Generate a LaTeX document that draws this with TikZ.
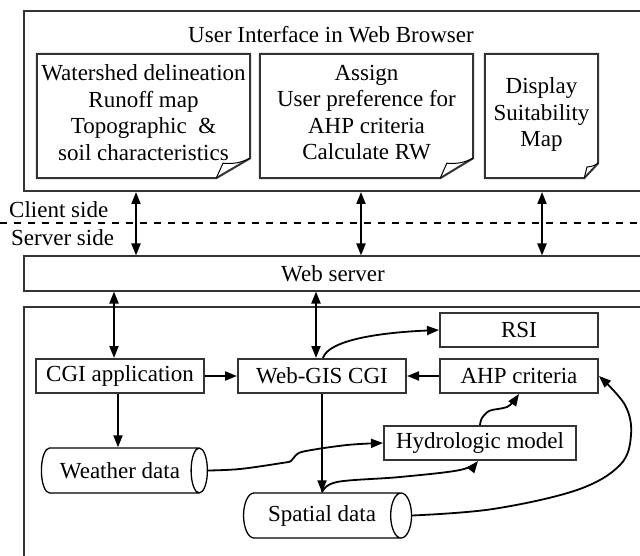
\documentclass[tikz,border=0pt]{standalone}
\usepackage{fontspec}
\setmainfont{Liberation Serif}
\usetikzlibrary{arrows.meta,shapes.geometric}
\definecolor{edge}{HTML}{333333}
\newcommand{\docpage}[3]{%
    \draw[frame] (#1.north west) -- (#1.north east) -- ([yshift=#3]#1.south east)
        -- ([xshift=-#2]#1.south east) -- (#1.south west) -- cycle;
    \draw[fold] ([xshift=-#2]#1.south east) -- ([xshift={-0.8*#2},yshift={0.75*#3}]#1.south east)
        to[bend right=15] ([yshift=#3]#1.south east);
}

\begin{document}
\begin{tikzpicture}[x=1pt, y=-1pt, font=\fontsize{23}{26.5}\selectfont,
    frame/.style={draw=edge, line width=2pt},
    fold/.style={draw=black, line width=1pt},
    box/.style={frame, inner sep=0pt, minimum height=34pt},
    doc/.style={inner sep=0pt, minimum height=124pt, align=center, text depth=7pt},
    db/.style={draw=black, line width=1.3pt, cylinder, aspect=1, inner sep=0pt,
        minimum width=45pt},
    arr/.style={line width=1.8pt, -{Triangle[length=12pt,width=9pt]}},
    dbl/.style={line width=1.8pt, {Triangle[length=12pt,width=9pt]}-{Triangle[length=12pt,width=9pt]}}]
    \useasboundingbox (0, 0) rectangle (640, 556);
    \clip (0, 0) rectangle (640, 556);

    \node (ui) [frame, inner sep=0pt, minimum width=618pt, minimum height=180pt] at (333, 101) {};
    \node (title) at (331, 35) {User Interface in Web Browser};
    \node (doc1) [doc, minimum width=213pt] at (143.5, 116) {Watershed delineation\\Runoff map\\Topographic~ \&\\soil characteristics};
    \node (doc2) [doc, minimum width=213pt] at (366.5, 116) {Assign\\User preference for\\AHP criteria\\Calculate RW};
    \node (doc3) [doc, minimum width=113pt] at (541.5, 116) {Display\\Suitability\\Map};
    \docpage{doc1}{34}{20}
    \docpage{doc2}{33}{20}
    \docpage{doc3}{14}{15}

    \node (client) [anchor=west, inner sep=0pt] at (9, 210) {Client side};
    \node (server) [anchor=west, inner sep=0pt] at (11, 238) {Server side};
    \draw[line width=1.8pt, dash pattern=on 7pt off 7pt] (0, 223) -- (640, 223);

    \node (web) [box, minimum width=618pt] at (333, 273.5) {Web server};
    \node (srv) [frame, inner sep=0pt, minimum width=618pt, minimum height=270pt] at (333, 442) {};

    \node (rsi) [box, minimum width=158pt] at (519, 330) {RSI};
    \node (cgi) [box, minimum width=168pt] at (120, 376) {CGI application};
    \node (webgis) [box, minimum width=168pt] at (322, 376) {Web-GIS CGI};
    \node (ahp) [box, minimum width=158pt] at (519, 376) {AHP criteria};
    \node (hydro) [box, minimum width=192pt] at (480, 443) {Hydrologic model};
    \node (weather) [db, minimum height=166pt] at (120, 470.5) {Weather data};
    \node (spatial) [db, minimum height=168pt] at (322, 515.5) {Spatial data};

    \draw[dbl] (ui.south -| 136,0) -- (web.north -| 136,0);
    \draw[dbl] (ui.south -| 361,0) -- (web.north -| 361,0);
    \draw[dbl] (ui.south -| 542,0) -- (web.north -| 542,0);
    \draw[dbl] (web.south -| 114,0) -- (cgi.north -| 114,0);
    \draw[dbl] (web.south -| 316,0) -- (webgis.north -| 316,0);

    \draw[arr] (cgi) -- (webgis);
    \draw[arr] (ahp) -- (webgis);
    \draw[arr] (cgi.south -| 118,0) -- (weather.north -| 118,0);
    \draw[arr] (webgis) -- (spatial.north);
    \draw[arr] (webgis.north -| 323,0) .. controls (328, 342) and (370, 333) .. (rsi.west);
    \draw[arr] plot[smooth, tension=0.6] coordinates {(weather.east) (240, 469) (282, 463) (291, 461) (296, 455) (306, 451) (347, 445) (hydro.west)};
    \draw[arr] plot[smooth, tension=0.6] coordinates {(spatial.north) (337, 482) (400, 477) (460, 470) ([xshift=-2]hydro.south)};
    \draw[arr] plot[smooth, tension=0.6] coordinates {(hydro.north) (482, 418) (489, 411) (498, 409) (507, 407) (513, 402) (ahp.south)};
    \draw[arr] plot[smooth, tension=0.6] coordinates {(spatial.east) (493, 509) (577, 490) (620, 465) (631, 435) (625, 405) (ahp.east)};
\end{tikzpicture}
\end{document}
